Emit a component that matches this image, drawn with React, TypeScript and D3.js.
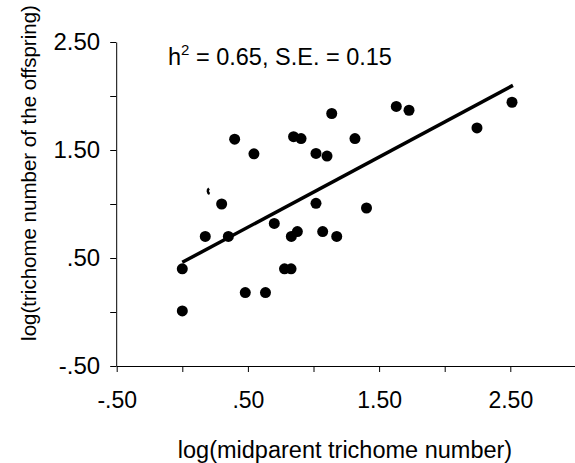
import React, { useEffect, useRef } from 'react';
import * as d3 from 'd3';

// log(midparent trichome number) vs log(trichome number of the offspring)
const midparent = [
  0.0, 0.0, 0.175, 0.3, 0.351, 0.399, 0.48, 0.546, 0.634, 0.701, 0.779, 0.829, 0.831, 0.877,
  0.848, 0.905, 1.019, 1.019, 1.103, 1.07, 1.139, 1.177, 1.316, 1.404, 1.631, 1.728, 2.246, 2.513,
];
const offspring = [
  0.4, 0.01, 0.70, 1.0, 0.70, 1.6, 0.18, 1.465, 0.18, 0.82, 0.40, 0.40, 0.70, 0.745,
  1.623, 1.606, 1.006, 1.468, 1.444, 0.745, 1.838, 0.70, 1.606, 0.963, 1.903, 1.868, 1.704, 1.942,
];
// fitted regression line
const fitX = [0.0, 2.52];
const slope = 0.65;
const intercept = 0.46;

const tickVals = [-0.5, 0, 0.5, 1, 1.5, 2, 2.5, 3];
const labelled = [-0.5, 0.5, 1.5, 2.5];

const FONT = 'Liberation Sans, Arial, sans-serif';

function App() {
  const ref = useRef<SVGSVGElement>(null);

  useEffect(() => {
    drawChart();
  }, []);

  function drawChart() {
    const svg = d3.select(ref.current);
    svg.selectAll('*').remove();

    const width = 575;

    const xScale = d3.scaleLinear().domain([-0.5, 2.5]).range([116.7, 510.3]);
    const yScale = d3.scaleLinear().domain([-0.5, 2.5]).range([366, 42]);

    // ".50" style labels, plain hyphen for minus
    const fmt = (d: number) => {
      if (!labelled.includes(d)) return '';
      const s = Math.abs(d).toFixed(2).replace(/^0\./, '.');
      return (d < 0 ? '-' : '') + s;
    };

    // x axis
    const xAxis = svg
      .append('g')
      .attr('transform', `translate(0,${yScale(-0.5)})`)
      .call(
        d3.axisBottom(xScale).tickValues(tickVals).tickSize(6).tickSizeOuter(0).tickPadding(20).tickFormat(fmt as any)
      );
    xAxis.select('.domain').attr('d', `M${xScale(-0.5)},0.5H${width}`);
    xAxis.selectAll('text').style('font-family', FONT).style('font-size', '23px').attr('fill', '#000');

    // y axis
    const yAxis = svg
      .append('g')
      .attr('transform', `translate(${xScale(-0.5) - 0.5},0)`)
      .call(
        d3.axisLeft(yScale).tickValues(tickVals.slice(0, 7)).tickSize(6).tickSizeOuter(0).tickPadding(10).tickFormat(fmt as any)
      );
    yAxis.selectAll('text').style('font-family', FONT).style('font-size', '24px').attr('fill', '#000');

    // regression line
    const line = d3
      .line<number>()
      .x(d => xScale(d))
      .y(d => yScale(intercept + slope * d));
    svg
      .append('path')
      .datum(fitX)
      .attr('d', line)
      .attr('fill', 'none')
      .attr('stroke', '#000')
      .attr('stroke-width', 3.5);

    // points
    svg
      .selectAll('circle.pt')
      .data(midparent)
      .enter()
      .append('circle')
      .attr('class', 'pt')
      .attr('cx', d => xScale(d))
      .attr('cy', (d, i) => yScale(offspring[i]))
      .attr('r', 5.5)
      .attr('fill', '#000');

    // small partly printed mark
    const arc = d3.arc()({ innerRadius: 2, outerRadius: 4.5, startAngle: 3.6, endAngle: 5.6 } as any);
    svg
      .append('path')
      .attr('d', arc)
      .attr('transform', `translate(${xScale(0.204) + 2},${yScale(1.12)})`)
      .attr('fill', '#000');

    // annotation
    const note = svg
      .append('text')
      .attr('x', 168)
      .attr('y', 64.5)
      .style('font-family', FONT)
      .style('font-size', '23.5px')
      .attr('fill', '#000');
    note.append('tspan').text('h');
    note.append('tspan').attr('dy', -10).style('font-size', '15px').text('2');
    note.append('tspan').attr('dy', 10).text(' = 0.65, S.E. = 0.15');

    // axis labels
    svg
      .append('text')
      .attr('x', 345)
      .attr('y', 458)
      .attr('text-anchor', 'middle')
      .style('font-family', FONT)
      .style('font-size', '23.5px')
      .text('log(midparent trichome number)');

    svg
      .append('text')
      .attr('transform', `translate(36,173) rotate(-90)`)
      .attr('text-anchor', 'middle')
      .style('font-family', FONT)
      .style('font-size', '20.5px')
      .text('log(trichome number of the offspring)');
  }

  return (
    <svg
      ref={ref}
      width={575}
      height={463}
      style={{ position: 'absolute', left: 0, top: 0, background: '#fff' }}
    />
  );
}

export default App;
